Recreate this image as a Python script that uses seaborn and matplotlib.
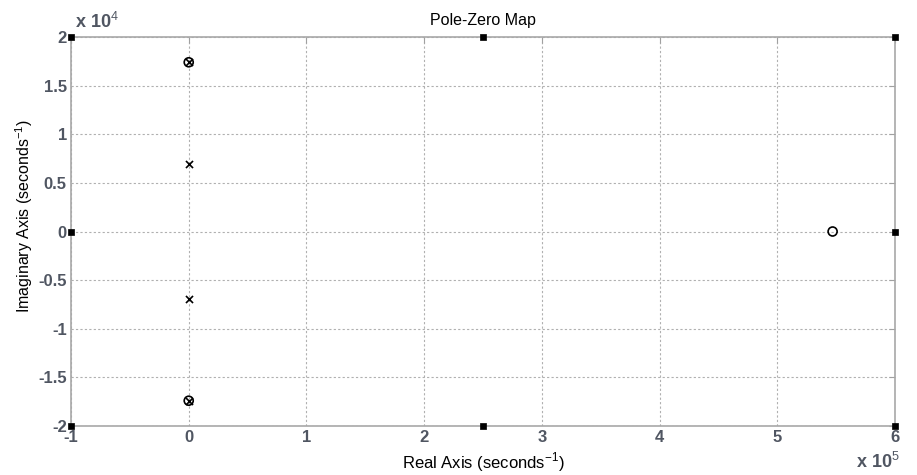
import matplotlib
matplotlib.use("Agg")
import matplotlib.pyplot as plt
import seaborn as sns
import pandas as pd
from matplotlib.ticker import FuncFormatter, FixedLocator

# Pole and zero locations (seconds^-1)
pole_real = [0.0, 0.0, 0.0, 0.0]
pole_imag = [17400.0, 6900.0, -6900.0, -17400.0]
zero_real = [0.0, 0.0, 547000.0]
zero_imag = [17400.0, -17400.0, 0.0]

# Boundary handle points on the map frame
frame_real = [-100000.0, 250000.0, 600000.0, -100000.0, 600000.0, -100000.0, 250000.0, 600000.0]
frame_imag = [20000.0, 20000.0, 20000.0, 0.0, 0.0, -20000.0, -20000.0, -20000.0]

x_ticks = [-1, 0, 1, 2, 3, 4, 5, 6]
y_ticks = [-2, -1.5, -1, -0.5, 0, 0.5, 1, 1.5, 2]
x_scale = 1e5
y_scale = 1e4

sns.set_theme(style="white")
plt.rcParams["font.family"] = ["Liberation Sans", "DejaVu Sans"]
plt.rcParams["mathtext.fontset"] = "custom"
plt.rcParams["mathtext.rm"] = "Liberation Sans"
plt.rcParams["axes.unicode_minus"] = False

fig = plt.figure(figsize=(9.17, 4.75), dpi=100)
ax = fig.add_axes([71 / 917, 1 - 426 / 475, (895 - 71) / 917, (426 - 37) / 475])

poles = pd.DataFrame({"re": pole_real, "im": pole_imag})
zeros = pd.DataFrame({"re": zero_real, "im": zero_imag})
frame = pd.DataFrame({"re": frame_real, "im": frame_imag})

sns.scatterplot(data=frame, x="re", y="im", ax=ax, marker="s", s=18,
                color="black", edgecolor="black", linewidth=0.5, zorder=5, clip_on=False)
sns.scatterplot(data=poles, x="re", y="im", ax=ax, marker="x", s=26,
                color="black", linewidth=1.2, zorder=4)
sns.scatterplot(data=zeros, x="re", y="im", ax=ax, marker="o", s=42,
                facecolor="none", edgecolor="black", linewidth=1.2, zorder=4)

ax.set_xlim(-1e5, 6e5)
ax.set_ylim(-2e4, 2e4)
ax.xaxis.set_major_locator(FixedLocator([v * x_scale for v in x_ticks]))
ax.yaxis.set_major_locator(FixedLocator([v * y_scale for v in y_ticks]))
ax.xaxis.set_major_formatter(FuncFormatter(lambda v, p: f"{v / x_scale:g}"))
ax.yaxis.set_major_formatter(FuncFormatter(lambda v, p: f"{v / y_scale:g}"))

tick_color = "#505662"
ax.tick_params(axis="both", direction="in", length=4, width=0.8, colors="#a0a0a0",
               labelcolor=tick_color, labelsize=12, pad=3, top=True, right=True)
for lbl in ax.get_xticklabels() + ax.get_yticklabels():
    lbl.set_fontweight("bold")

ax.grid(True, linestyle=(0, (2, 2)), color="#b0b0b0", linewidth=0.8)
for sp in ax.spines.values():
    sp.set_color("#a8a8a8")
    sp.set_linewidth(1.2)

ax.set_xlabel("Real Axis (seconds$^{\\mathregular{-1}}$)", fontsize=12, color="black", labelpad=4)
ax.set_ylabel("Imaginary Axis (seconds$^{\\mathregular{-1}}$)", fontsize=11.5, color="black")
ax.yaxis.set_label_coords(-0.044, 0.54)
ax.set_title("Pole-Zero Map", fontsize=11.5, color="black", pad=9)

fig.text(75 / 917, 1 - 22 / 475, "x 10$^{4}$", fontsize=13, color=tick_color,
         fontweight="bold", va="center", ha="left")
fig.text(900 / 917, 1 - 462 / 475, "x 10$^{5}$", fontsize=13, color=tick_color,
         fontweight="bold", va="center", ha="right")

fig.savefig("out.png", dpi=100)
